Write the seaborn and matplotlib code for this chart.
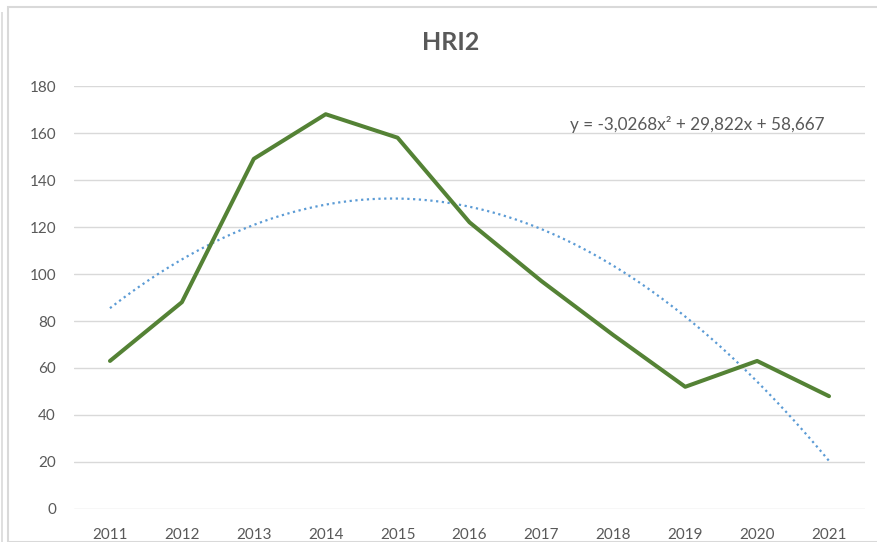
import matplotlib
matplotlib.use("Agg")
import matplotlib.pyplot as plt
import seaborn as sns
import pandas as pd
from matplotlib.patches import Rectangle

# Data
years = ["2011", "2012", "2013", "2014", "2015", "2016", "2017", "2018", "2019", "2020", "2021"]
hri2 = [63, 88, 149, 168, 158, 122, 97, 74, 52, 63, 48]
trend_label = "y = -3,0268x\u00b2 + 29,822x + 58,667"
y_ticks = [0, 20, 40, 60, 80, 100, 120, 140, 160, 180]

df = pd.DataFrame({"pos": range(len(years)), "year": years, "value": hri2})

sns.set_theme(style="white")
plt.rcParams["font.family"] = ["Lato", "DejaVu Sans"]

text_col = "#595959"
fig = plt.figure(figsize=(8.77, 5.42), dpi=100)
ax = fig.add_axes([0.0844, 0.0609, 0.9019, 0.7804])

# grid
ax.set_ylim(0, 180)
ax.set_yticks(y_ticks)
ax.yaxis.grid(True, color="#d9d9d9", linewidth=1.0)
ax.set_axisbelow(True)

# polynomial (order 2) trendline, dotted
sns.regplot(data=df, x="pos", y="value", order=2, scatter=False, ci=None,
            ax=ax, line_kws={"color": "#5b9bd5", "linestyle": (0, (1, 1.6)), "linewidth": 1.6})

# main series
sns.lineplot(data=df, x="pos", y="value", ax=ax, color="#548235", linewidth=2.9)

ax.set_xlim(-0.5, len(years) - 0.5)
ax.set_xticks(df["pos"])
ax.set_xticklabels(years)
ax.set_xlabel("")
ax.set_ylabel("")
ax.tick_params(axis="both", length=0, labelsize=11, colors=text_col)
ax.tick_params(axis="y", pad=13)
ax.tick_params(axis="x", pad=14)
for s in ax.spines.values():
    s.set_visible(False)

fig.text(451 / 877, 1 - 42 / 542, "HRI2", fontsize=18, fontweight="bold",
         color=text_col, ha="center", va="center")
ax.text(6.4, 163.5, trend_label, fontsize=12.3, color=text_col, va="center", ha="left")

# outer chart frame
fig.patches.append(Rectangle((8 / 877, 0), 1.0, 1 - 7 / 542, transform=fig.transFigure,
                             fill=False, edgecolor="#d9d9d9", linewidth=1.5))
fig.patches.append(Rectangle((0.002, 0), 0.0, 1 - 12 / 542, transform=fig.transFigure,
                             fill=False, edgecolor="#d9d9d9", linewidth=1.2))

fig.savefig("out.png", dpi=100)
